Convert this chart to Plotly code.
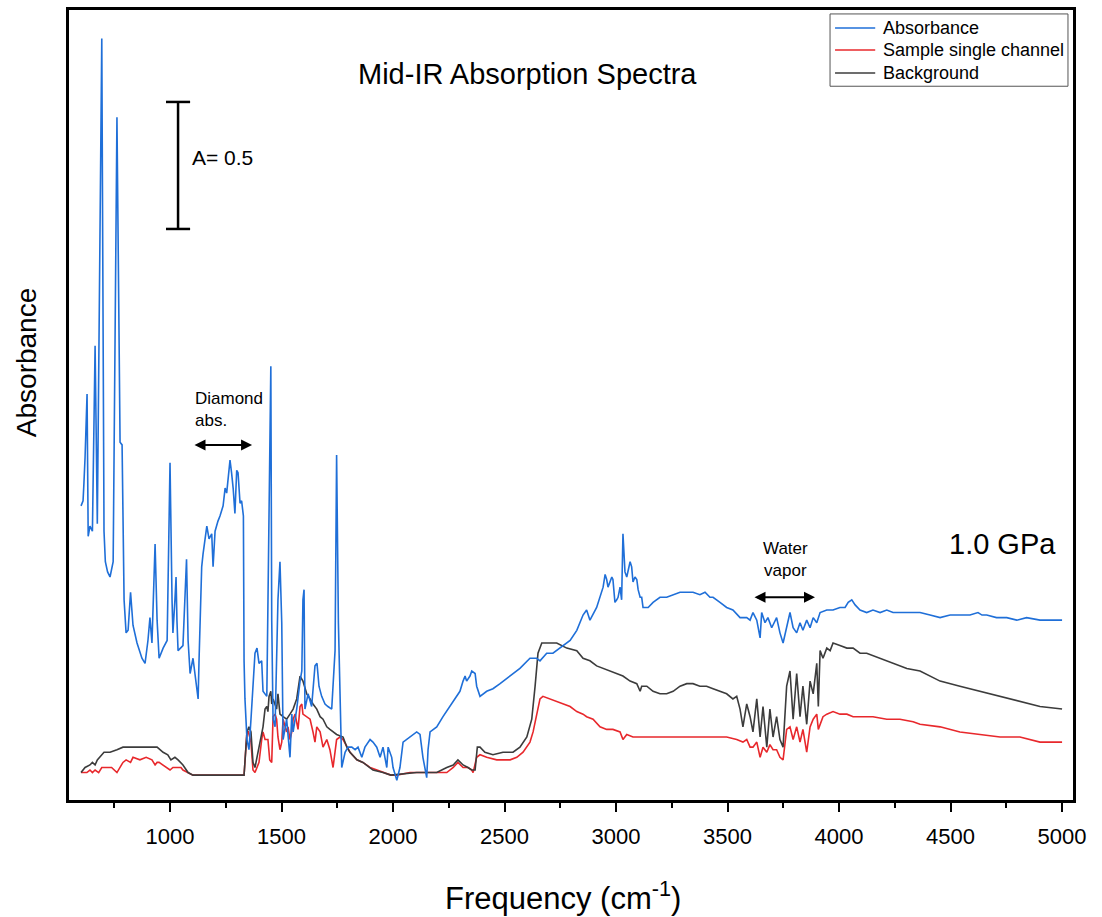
import plotly.graph_objects as go

# ---------------- spectra (wavenumber in cm^-1, absorbance-scaled units) ----------------
abs_wn = [601, 610, 614, 619, 628, 633, 641, 652, 664, 674, 694, 704, 710, 720, 731, 745, 762, 771,
          776, 785, 789, 794, 803, 812, 823, 834, 852, 874, 888, 901, 910, 919, 933, 942, 951, 969,
          987, 1000, 1009, 1013, 1022, 1027, 1031, 1036, 1058, 1074, 1081, 1090, 1103, 1117, 1126,
          1130, 1139, 1142, 1148, 1165, 1175, 1187, 1193, 1202, 1215, 1224, 1238, 1247, 1254, 1269,
          1276, 1283, 1291, 1299, 1305, 1314, 1321, 1329, 1332, 1336, 1345, 1354, 1363, 1372, 1381,
          1390, 1399, 1411, 1417, 1434, 1439, 1444, 1452, 1456, 1462, 1471, 1484, 1493, 1501, 1507,
          1523, 1538, 1546, 1552, 1568, 1583, 1591, 1596, 1601, 1605, 1619, 1635, 1650, 1659, 1668,
          1680, 1695, 1708, 1725, 1740, 1747, 1755, 1770, 1785, 1798, 1815, 1830, 1843, 1860, 1874,
          1897, 1910, 1927, 1942, 1955, 1972, 1978, 1994, 2000, 2017, 2031, 2045, 2061, 2076, 2090,
          2106, 2121, 2134, 2151, 2157, 2166, 2196, 2224, 2256, 2278, 2300, 2314, 2323, 2330, 2345,
          2353, 2368, 2375, 2390, 2420, 2448, 2480, 2525, 2569, 2614, 2644, 2659, 2689, 2717, 2762,
          2794, 2824, 2852, 2868, 2883, 2913, 2928, 2942, 2951, 2958, 2964, 2981, 2986, 2995, 3003,
          3009, 3018, 3025, 3031, 3040, 3048, 3063, 3070, 3076, 3085, 3093, 3099, 3108, 3115, 3121,
          3130, 3144, 3166, 3197, 3227, 3256, 3287, 3317, 3345, 3376, 3399, 3421, 3435, 3466, 3496,
          3524, 3556, 3569, 3586, 3601, 3614, 3631, 3646, 3653, 3668, 3681, 3698, 3720, 3735, 3749,
          3765, 3780, 3794, 3810, 3825, 3838, 3855, 3870, 3884, 3900, 3915, 3945, 3973, 4004, 4027,
          4041, 4057, 4072, 4094, 4124, 4152, 4184, 4214, 4242, 4273, 4304, 4332, 4363, 4408, 4453,
          4498, 4542, 4587, 4623, 4641, 4662, 4706, 4752, 4797, 4841, 4901, 4946, 5000]
abs_val = [1.06, 1.08, 1.15, 1.25, 1.50, 0.94, 0.98, 0.96, 1.69, 0.99, 2.90, 0.96, 0.84, 0.80, 0.78,
           0.84, 2.59, 1.87, 1.31, 1.30, 1.04, 0.69, 0.56, 0.57, 0.72, 0.59, 0.52, 0.46, 0.44, 0.53,
           0.62, 0.52, 0.91, 0.61, 0.46, 0.50, 0.53, 1.23, 0.69, 0.56, 0.69, 0.78, 0.61, 0.49, 0.51,
           0.85, 0.53, 0.40, 0.46, 0.37, 0.30, 0.45, 0.69, 0.82, 0.87, 0.98, 0.93, 0.95, 0.82, 0.96,
           1.00, 1.02, 1.06, 1.13, 1.11, 1.24, 1.19, 1.13, 1.03, 1.20, 1.19, 1.07, 1.08, 1.02, 0.45,
           0.30, 0.14, 0.10, 0.22, 0.37, 0.48, 0.50, 0.44, 0.45, 0.33, 0.31, 0.69, 1.20, 1.61, 0.61,
           0.22, 0.19, 0.69, 0.84, 0.60, 0.14, 0.22, 0.07, 0.24, 0.17, 0.26, 0.37, 0.41, 0.69, 0.73,
           0.26, 0.32, 0.27, 0.43, 0.44, 0.35, 0.31, 0.28, 0.27, 0.26, 0.49, 1.26, 0.60, 0.03, 0.09,
           0.11, 0.11, 0.10, 0.11, 0.07, 0.11, 0.14, 0.13, 0.11, 0.07, 0.11, 0.03, 0.11, 0.07, 0.03,
           -0.02, 0.03, 0.13, 0.14, 0.15, 0.16, 0.17, 0.16, 0.07, -0.01, 0.10, 0.17, 0.19, 0.23, 0.27,
           0.30, 0.33, 0.37, 0.39, 0.37, 0.39, 0.41, 0.40, 0.35, 0.31, 0.33, 0.34, 0.36, 0.39, 0.42,
           0.46, 0.46, 0.45, 0.48, 0.48, 0.51, 0.53, 0.57, 0.63, 0.65, 0.61, 0.66, 0.70, 0.74, 0.79,
           0.77, 0.74, 0.78, 0.77, 0.68, 0.69, 0.70, 0.74, 0.69, 0.95, 0.80, 0.78, 0.84, 0.82, 0.76,
           0.78, 0.77, 0.73, 0.70, 0.70, 0.66, 0.66, 0.66, 0.68, 0.70, 0.70, 0.71, 0.72, 0.72, 0.72,
           0.71, 0.72, 0.70, 0.70, 0.68, 0.66, 0.65, 0.62, 0.62, 0.62, 0.61, 0.64, 0.61, 0.54, 0.64,
           0.60, 0.62, 0.58, 0.62, 0.56, 0.52, 0.58, 0.64, 0.58, 0.56, 0.60, 0.57, 0.61, 0.58, 0.62,
           0.60, 0.64, 0.65, 0.65, 0.66, 0.66, 0.68, 0.69, 0.67, 0.65, 0.64, 0.65, 0.64, 0.65, 0.64,
           0.64, 0.64, 0.64, 0.64, 0.63, 0.62, 0.63, 0.63, 0.63, 0.64, 0.63, 0.63, 0.62, 0.62, 0.61,
           0.62, 0.61, 0.61, 0.61]

sample_wn = [601, 627, 641, 652, 664, 680, 694, 710, 725, 738, 762, 776, 789, 803, 823, 834, 865,
             893, 919, 933, 942, 951, 987, 1000, 1013, 1027, 1049, 1058, 1081, 1103, 1329, 1332,
             1345, 1351, 1363, 1372, 1381, 1399, 1411, 1417, 1426, 1439, 1447, 1456, 1462, 1471,
             1478, 1484, 1493, 1501, 1507, 1516, 1523, 1529, 1538, 1546, 1552, 1561, 1568, 1574,
             1583, 1591, 1596, 1613, 1628, 1641, 1650, 1658, 1673, 1686, 1703, 1717, 1731, 1747,
             1762, 1776, 1793, 1807, 1838, 1865, 1897, 1927, 1955, 1990, 2017, 2076, 2106, 2134,
             2196, 2241, 2270, 2291, 2314, 2336, 2353, 2359, 2375, 2390, 2420, 2465, 2525, 2555,
             2583, 2614, 2628, 2644, 2659, 2672, 2704, 2734, 2762, 2794, 2824, 2852, 2868, 2897,
             2928, 2958, 2986, 3018, 3031, 3048, 3076, 3108, 3138, 3197, 3256, 3317, 3376, 3435,
             3496, 3541, 3569, 3586, 3601, 3614, 3631, 3646, 3659, 3676, 3690, 3704, 3720, 3735,
             3749, 3765, 3780, 3794, 3810, 3825, 3838, 3855, 3870, 3884, 3900, 3907, 3915, 3928,
             3945, 3973, 4004, 4035, 4063, 4094, 4152, 4214, 4273, 4332, 4363, 4453, 4542, 4632,
             4722, 4811, 4901, 5000]
sample_val = [0.01, 0.01, 0.02, 0.01, 0.02, 0.01, 0.03, 0.03, 0.03, 0.03, 0.01, 0.03, 0.05, 0.06,
              0.05, 0.07, 0.06, 0.07, 0.06, 0.04, 0.05, 0.05, 0.03, 0.02, 0.03, 0.03, 0.03, 0.02,
              0.01, 0.00, 0.00, 0.00, 0.17, 0.17, 0.13, 0.02, 0.01, 0.05, 0.14, 0.17, 0.14, 0.14,
              0.06, 0.05, 0.23, 0.24, 0.22, 0.15, 0.10, 0.13, 0.22, 0.19, 0.17, 0.19, 0.14, 0.17,
              0.22, 0.24, 0.20, 0.18, 0.27, 0.28, 0.24, 0.23, 0.22, 0.17, 0.13, 0.19, 0.17, 0.11,
              0.14, 0.10, 0.03, 0.14, 0.15, 0.14, 0.11, 0.09, 0.06, 0.05, 0.03, 0.02, 0.01, 0.00,
              0.00, 0.01, 0.01, 0.01, 0.01, 0.01, 0.03, 0.05, 0.03, 0.03, 0.02, 0.01, 0.07, 0.08,
              0.07, 0.06, 0.06, 0.07, 0.09, 0.13, 0.17, 0.24, 0.30, 0.31, 0.30, 0.29, 0.28, 0.27,
              0.25, 0.24, 0.23, 0.22, 0.19, 0.18, 0.18, 0.17, 0.14, 0.16, 0.15, 0.15, 0.15, 0.15,
              0.15, 0.15, 0.15, 0.15, 0.15, 0.14, 0.13, 0.14, 0.11, 0.11, 0.13, 0.07, 0.11, 0.09,
              0.12, 0.10, 0.10, 0.07, 0.06, 0.18, 0.19, 0.14, 0.19, 0.13, 0.18, 0.09, 0.19, 0.22,
              0.24, 0.18, 0.20, 0.23, 0.24, 0.25, 0.24, 0.24, 0.23, 0.23, 0.23, 0.22, 0.22, 0.21,
              0.20, 0.19, 0.17, 0.16, 0.15, 0.15, 0.13, 0.13]

bkg_wn = [601, 619, 641, 652, 664, 674, 704, 731, 762, 789, 823, 852, 880, 910, 942, 969, 990,
          1004, 1022, 1036, 1058, 1081, 1103, 1329, 1332, 1345, 1354, 1363, 1372, 1381, 1399,
          1417, 1426, 1434, 1439, 1444, 1452, 1456, 1462, 1478, 1484, 1493, 1507, 1523, 1538,
          1552, 1568, 1574, 1583, 1596, 1613, 1628, 1641, 1658, 1673, 1686, 1703, 1717, 1731,
          1747, 1776, 1793, 1807, 1838, 1865, 1910, 1955, 1990, 2106, 2196, 2241, 2270, 2291,
          2314, 2336, 2353, 2368, 2378, 2390, 2412, 2448, 2493, 2538, 2569, 2600, 2622, 2637,
          2650, 2667, 2689, 2734, 2779, 2824, 2852, 2883, 2913, 2942, 2974, 3003, 3031, 3063,
          3093, 3108, 3115, 3138, 3166, 3197, 3227, 3256, 3287, 3317, 3345, 3376, 3406, 3435,
          3466, 3496, 3524, 3541, 3556, 3569, 3586, 3601, 3614, 3631, 3646, 3659, 3676, 3690,
          3704, 3720, 3735, 3749, 3765, 3780, 3794, 3810, 3825, 3838, 3855, 3870, 3884, 3900,
          3907, 3915, 3928, 3945, 3960, 3973, 4004, 4035, 4063, 4094, 4124, 4184, 4242, 4304,
          4363, 4453, 4542, 4632, 4722, 4811, 4901, 5000]
bkg_val = [0.01, 0.03, 0.04, 0.05, 0.04, 0.06, 0.09, 0.09, 0.10, 0.11, 0.11, 0.11, 0.11, 0.11,
           0.11, 0.09, 0.08, 0.06, 0.07, 0.06, 0.04, 0.01, 0.00, 0.00, 0.00, 0.17, 0.19, 0.17,
           0.05, 0.03, 0.11, 0.19, 0.26, 0.27, 0.25, 0.31, 0.33, 0.28, 0.30, 0.26, 0.32, 0.24,
           0.23, 0.22, 0.24, 0.26, 0.30, 0.33, 0.39, 0.37, 0.32, 0.30, 0.28, 0.26, 0.23, 0.22,
           0.19, 0.18, 0.17, 0.16, 0.15, 0.11, 0.09, 0.06, 0.05, 0.02, 0.01, 0.00, 0.01, 0.01,
           0.03, 0.04, 0.06, 0.04, 0.03, 0.02, 0.02, 0.11, 0.11, 0.09, 0.08, 0.09, 0.09, 0.11,
           0.15, 0.22, 0.35, 0.48, 0.52, 0.52, 0.52, 0.50, 0.49, 0.46, 0.45, 0.43, 0.42, 0.41,
           0.40, 0.39, 0.37, 0.36, 0.33, 0.35, 0.35, 0.33, 0.32, 0.32, 0.33, 0.35, 0.36, 0.36,
           0.35, 0.35, 0.34, 0.33, 0.32, 0.30, 0.31, 0.26, 0.19, 0.28, 0.23, 0.17, 0.30, 0.15,
           0.27, 0.11, 0.26, 0.15, 0.23, 0.14, 0.11, 0.35, 0.41, 0.22, 0.40, 0.23, 0.35, 0.20,
           0.37, 0.32, 0.44, 0.27, 0.49, 0.46, 0.50, 0.49, 0.52, 0.51, 0.50, 0.50, 0.48, 0.48,
           0.46, 0.44, 0.42, 0.41, 0.37, 0.35, 0.33, 0.31, 0.29, 0.27, 0.26]

x_tick_vals = [1000, 1500, 2000, 2500, 3000, 3500, 4000, 4500, 5000]
x_tick_text = ["1000", "1500", "2000", "2500", "3000", "3500", "4000", "4500", "5000"]

series_names = ["Absorbance", "Sample single channel", "Background"]

# scale bar: absorbance step of 0.5 placed in the upper-left corner
scale_step = 0.5
scale_x = 1036
scale_bottom = 2.15

FONT = "Liberation Sans, Arial, sans-serif"
BLUE = "#1f6fd8"
RED = "#e8282c"
DARK = "#3c3c3c"
series_colors = [BLUE, RED, DARK]

fig = go.Figure()
fig.add_trace(go.Scatter(x=sample_wn, y=sample_val, mode="lines", name=series_names[1],
                         line=dict(color=RED, width=1.6), showlegend=False))
fig.add_trace(go.Scatter(x=bkg_wn, y=bkg_val, mode="lines", name=series_names[2],
                         line=dict(color=DARK, width=1.6), showlegend=False))
fig.add_trace(go.Scatter(x=abs_wn, y=abs_val, mode="lines", name=series_names[0],
                         line=dict(color=BLUE, width=1.6), showlegend=False))

# scale bar
cap = 54
fig.add_shape(type="line", x0=scale_x, x1=scale_x, y0=scale_bottom, y1=scale_bottom + scale_step,
              line=dict(color="black", width=2.5))
for yy in (scale_bottom, scale_bottom + scale_step):
    fig.add_shape(type="line", x0=scale_x - cap, x1=scale_x + cap, y0=yy, y1=yy,
                  line=dict(color="black", width=2.5))

# compact key box in the upper-right corner (paper coordinates)
key_left, key_right, key_top, key_bottom = 0.758, 0.995, 0.995, 0.9035
key_rows = [0.9772, 0.9494, 0.9203]
fig.add_shape(type="rect", xref="paper", yref="paper", x0=key_left, x1=key_right,
              y0=key_bottom, y1=key_top, line=dict(color="#555555", width=1),
              fillcolor="white", layer="above")
annotations = []
for name, color, ry in zip(series_names, series_colors, key_rows):
    fig.add_shape(type="line", xref="paper", yref="paper", x0=0.763, x1=0.803, y0=ry, y1=ry,
                  line=dict(color=color, width=1.6), layer="above")
    annotations.append(dict(xref="paper", yref="paper", x=0.8085, y=ry, text=name,
                            xanchor="left", yanchor="middle", showarrow=False,
                            font=dict(size=18, family=FONT, color="black")))

annotations += [
    dict(x=1090, y=scale_bottom + scale_step / 2 + 0.03, text="A= 0.5", xanchor="left",
         showarrow=False, font=dict(size=21, family=FONT, color="black")),
    dict(x=2605, y=2.76, text="Mid-IR Absorption Spectra", showarrow=False,
         font=dict(size=29, family=FONT, color="black")),
    dict(x=4731, y=0.91, text="1.0 GPa", showarrow=False,
         font=dict(size=29, family=FONT, color="black")),
    dict(x=1103, y=1.44, text="Diamond<br>abs.", xanchor="left", align="left", showarrow=False,
         font=dict(size=17, family=FONT, color="black")),
    dict(x=3762, y=0.85, text="Water<br>vapor", align="center", showarrow=False,
         font=dict(size=17, family=FONT, color="black")),
    # double-headed arrows
    dict(x=1368, y=1.30, ax=1103, ay=1.30, axref="x", ayref="y", text="", showarrow=True,
         arrowhead=2, startarrowhead=2, arrowside="end+start", arrowsize=1.1, arrowwidth=2,
         arrowcolor="black"),
    dict(x=3892, y=0.70, ax=3614, ay=0.70, axref="x", ayref="y", text="", showarrow=True,
         arrowhead=2, startarrowhead=2, arrowside="end+start", arrowsize=1.1, arrowwidth=2,
         arrowcolor="black"),
    # axis titles
    dict(xref="paper", yref="paper", x=-0.042, y=0.554, xanchor="center", yanchor="middle",
         text="Absorbance", textangle=-90, showarrow=False,
         font=dict(size=28, family=FONT, color="black")),
    dict(xref="paper", yref="paper", x=0.492, y=-0.121, xanchor="center", yanchor="middle",
         text="Frequency (cm<sup>-1</sup>)", showarrow=False,
         font=dict(size=31, family=FONT, color="black")),
]

fig.update_layout(
    width=1102, height=917,
    margin=dict(l=69, r=29, t=10, b=117),
    paper_bgcolor="white", plot_bgcolor="white",
    font=dict(family=FONT, color="black"),
    showlegend=False,
    annotations=annotations,
    xaxis=dict(range=[547, 5049], showgrid=False, zeroline=False, showline=True, mirror=True,
               linecolor="black", linewidth=3, ticks="outside", ticklen=9, tickwidth=2,
               tickcolor="black", tickvals=x_tick_vals, ticktext=x_tick_text,
               tickfont=dict(size=22, family=FONT), ticklabelstandoff=6, automargin=False,
               minor=dict(ticks="outside", ticklen=5, tickwidth=2, tickcolor="black", dtick=250,
                          tick0=0)),
    yaxis=dict(range=[-0.098, 3.012], showgrid=False, zeroline=False, showline=True, mirror=True,
               linecolor="black", linewidth=3, ticks="", showticklabels=False, automargin=False),
)

fig.write_html("out.html")
